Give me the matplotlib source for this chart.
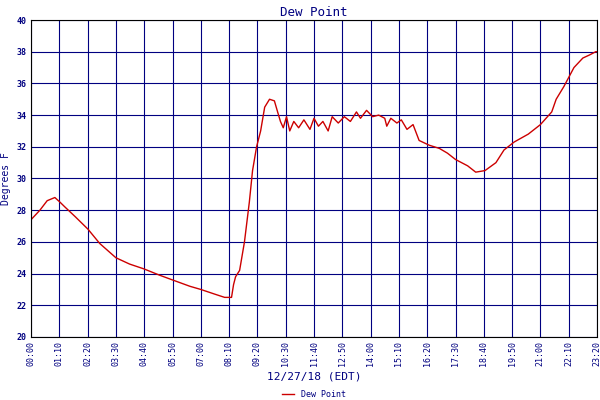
import matplotlib
matplotlib.use("Agg")
import matplotlib.pyplot as plt

minutes = [0, 22, 40, 59, 72, 84, 109, 141, 170, 210, 244, 279, 318, 350, 393, 420, 455, 479, 496, 501, 506, 516, 528, 540, 548, 558, 568, 578, 590, 602, 610, 617, 624, 632, 640, 650, 662, 675, 690, 700, 711, 722, 735, 745, 760, 775, 790, 805, 815, 830, 845, 860, 875, 880, 890, 905, 916, 930, 945, 960, 985, 1010, 1030, 1050, 1080, 1100, 1123, 1150, 1170, 1195, 1230, 1260, 1288, 1299, 1318, 1343, 1365, 1382, 1397, 1400]
dew = [27.4, 28.0, 28.6, 28.8, 28.5, 28.2, 27.6, 26.8, 25.9, 25.0, 24.6, 24.3, 23.9, 23.6, 23.2, 23.0, 22.7, 22.5, 22.5, 23.3, 23.8, 24.2, 26.0, 28.5, 30.5, 32.0, 33.0, 34.5, 35.0, 34.9, 34.2, 33.6, 33.2, 33.9, 33.0, 33.6, 33.2, 33.7, 33.1, 33.8, 33.3, 33.6, 33.0, 33.9, 33.5, 33.9, 33.6, 34.2, 33.8, 34.3, 33.9, 34.0, 33.8, 33.3, 33.8, 33.5, 33.7, 33.1, 33.4, 32.4, 32.1, 31.9, 31.6, 31.2, 30.8, 30.4, 30.5, 31.0, 31.8, 32.3, 32.8, 33.4, 34.2, 35.0, 35.8, 37.0, 37.6, 37.8, 38.0, 38.0]
tick_minutes = list(range(0, 1401, 70))
tick_labels = ["%02d:%02d" % (m // 60, m % 60) for m in tick_minutes]

navy = "#000080"
plt.rcParams['font.family'] = ['DejaVu Sans Mono']
fig = plt.figure(figsize=(6, 4), dpi=100)
ax = fig.add_axes([31/600, 63/400, 566/600, 317/400])
ax.plot(minutes, dew, color="#cc0000", lw=1, label="Dew Point")
ax.set_xlim(0, 1400)
ax.set_ylim(20, 40)
ax.set_xticks(tick_minutes)
ax.set_xticklabels(tick_labels, rotation=90, fontsize=6, color=navy)
ax.set_yticks(range(20, 41, 2))
ax.set_yticklabels([str(v) for v in range(20, 41, 2)], fontsize=6, color=navy, fontweight='bold')
ax.grid(True, color=navy, lw=0.8)
ax.tick_params(length=0, pad=3)
ax.set_title("Dew Point", color=navy, fontsize=9, pad=3)
ax.set_ylabel("Degrees F", color=navy, fontsize=7)
ax.set_xlabel("12/27/18 (EDT)", color=navy, fontsize=8)
ax.legend(loc="center", bbox_to_anchor=(0.5, -0.18), frameon=False, fontsize=6, labelcolor=navy, handlelength=1.5, borderpad=0)
fig.savefig("out.png", dpi=100)
